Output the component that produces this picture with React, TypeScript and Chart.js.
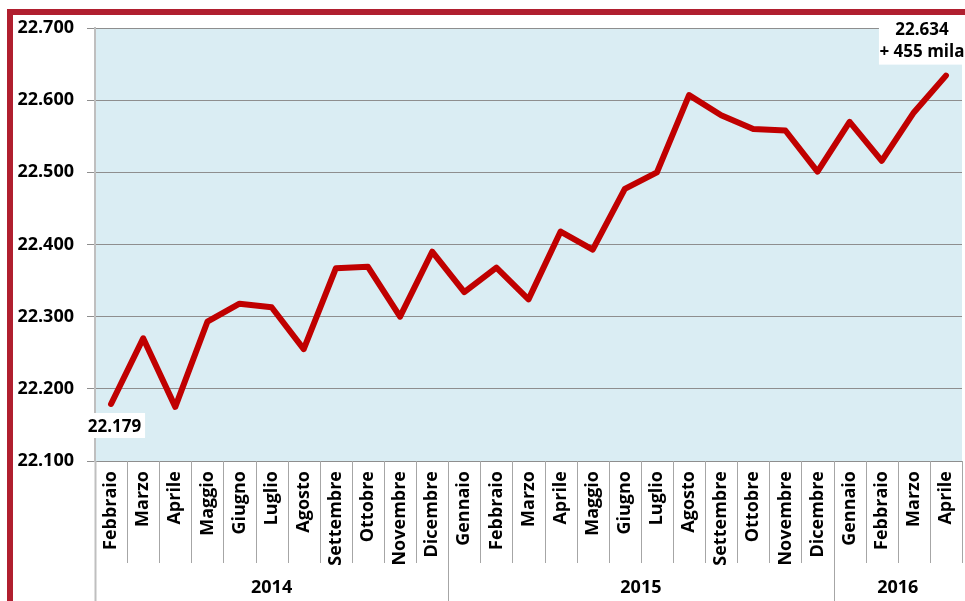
import React, { useEffect, useRef } from 'react';
import { Chart, registerables } from 'chart.js';

Chart.register(...registerables);

const monthLabels = [
  'Febbraio', 'Marzo', 'Aprile', 'Maggio', 'Giugno', 'Luglio', 'Agosto', 'Settembre', 'Ottobre', 'Novembre', 'Dicembre',
  'Gennaio', 'Febbraio', 'Marzo', 'Aprile', 'Maggio', 'Giugno', 'Luglio', 'Agosto', 'Settembre', 'Ottobre', 'Novembre', 'Dicembre',
  'Gennaio', 'Febbraio', 'Marzo', 'Aprile',
];
const yearLabels = ['2014', '2015', '2016'];
const yearSpans = [11, 12, 4];
const employed = [
  22.179, 22.27, 22.175, 22.293, 22.318, 22.313, 22.255, 22.367, 22.369, 22.3, 22.39,
  22.334, 22.368, 22.324, 22.418, 22.393, 22.477, 22.5, 22.607, 22.579, 22.56, 22.558, 22.501,
  22.57, 22.516, 22.583, 22.634,
];
const yMin = 22.1;
const yMax = 22.7;
const yStep = 0.1;
const firstNote = ['22.179'];
const lastNote = ['22.634', '+ 455 mila'];

const FONT = "'Open Sans', 'Liberation Sans', sans-serif";

const framePlugin = {
  id: 'frame',
  beforeDraw(chart: any) {
    const { ctx, chartArea } = chart;
    const { left, top, right, bottom } = chartArea;
    ctx.save();
    ctx.fillStyle = '#ffffff';
    ctx.fillRect(0, 0, chart.width, chart.height);
    ctx.fillStyle = '#DAEDF3';
    ctx.fillRect(left, top, right - left, bottom - top);
    ctx.fillStyle = '#B01F2F';
    ctx.fillRect(7, 9, chart.width - 7, 6);
    ctx.fillRect(7, 9, 6, chart.height - 9);
    ctx.restore();
  },
  afterDraw(chart: any) {
    const { ctx, chartArea } = chart;
    const { left, right, bottom } = chartArea;
    const xs = chart.scales.x;
    const ys = chart.scales.y;
    const n = monthLabels.length;
    const boundary = (i: number) => {
      if (i <= 0) return left;
      if (i >= n) return right;
      return (xs.getPixelForValue(i - 1) + xs.getPixelForValue(i)) / 2;
    };
    const monthBottom = bottom + 102;
    ctx.save();
    ctx.strokeStyle = '#A6A6A6';
    ctx.lineWidth = 1;
    for (let i = 1; i <= n; i++) {
      const x = Math.round(boundary(i)) + 0.5;
      ctx.beginPath();
      ctx.moveTo(x, bottom);
      ctx.lineTo(x, monthBottom);
      ctx.stroke();
    }
    let acc = 0;
    const yearBounds = [0];
    yearSpans.forEach((s) => { acc += s; yearBounds.push(acc); });
    yearBounds.forEach((b, idx) => {
      if (idx === yearBounds.length - 1) return;
      const x = Math.round(boundary(b)) + 0.5;
      ctx.lineWidth = b === 0 ? 2 : 1;
      ctx.strokeStyle = b === 0 ? '#BFBFBF' : '#A6A6A6';
      ctx.beginPath();
      ctx.moveTo(x, bottom);
      ctx.lineTo(x, chart.height);
      ctx.stroke();
    });
    ctx.fillStyle = '#000';
    ctx.font = `bold 18px ${FONT}`;
    ctx.textAlign = 'center';
    ctx.textBaseline = 'middle';
    yearLabels.forEach((lab, idx) => {
      const x0 = boundary(yearBounds[idx]);
      const x1 = boundary(yearBounds[idx + 1]);
      ctx.fillText(lab, (x0 + x1) / 2, 588);
    });
    const p0x = xs.getPixelForValue(0);
    const p0y = ys.getPixelForValue(employed[0]);
    ctx.fillStyle = '#ffffff';
    ctx.fillRect(p0x - 26, p0y + 9, 60, 25);
    ctx.fillStyle = '#000';
    ctx.font = `bold 17px ${FONT}`;
    ctx.fillText(firstNote[0], p0x + 3.5, p0y + 23);

    const li = employed.length - 1;
    const plx = xs.getPixelForValue(li);
    const ply = ys.getPixelForValue(employed[li]);
    ctx.fillStyle = '#ffffff';
    ctx.fillRect(plx - 67, ply - 56, 90, 45);
    ctx.fillStyle = '#000';
    ctx.fillText(lastNote[0], plx - 24, ply - 45);
    ctx.fillText(lastNote[1], plx - 24, ply - 23);
    ctx.restore();
  },
};

export default function App() {
  const ref = useRef<HTMLCanvasElement | null>(null);
  useEffect(() => {
    if (!ref.current) return;
    const chart = new Chart(ref.current, {
      type: 'line',
      data: {
        labels: monthLabels,
        datasets: [
          {
            data: employed,
            borderColor: '#C00000',
            borderWidth: 6,
            pointRadius: 0,
            tension: 0,
            borderJoinStyle: 'round',
            borderCapStyle: 'round',
            fill: false,
          },
        ],
      },
      options: {
        animation: false,
        responsive: false,
        devicePixelRatio: 1,
        layout: { padding: { top: 28, right: 3, left: 0, bottom: 0 } },
        plugins: { legend: { display: false }, tooltip: { enabled: false } },
        scales: {
          x: {
            type: 'category',
            offset: true,
            grid: { display: false },
            border: { display: false },
            ticks: {
              autoSkip: false,
              minRotation: 90,
              maxRotation: 90,
              padding: 2,
              color: '#000',
              font: { family: FONT, size: 18, weight: 'bold' },
            },
            afterFit: (s: any) => { s.height = 140; s.paddingLeft = 0; s.paddingRight = 0; },
          },
          y: {
            min: yMin,
            max: yMax,
            ticks: {
              stepSize: yStep,
              padding: 13,
              color: '#000',
              font: { family: FONT, size: 18, weight: 'bold' },
              callback: (v: any) => Number(v).toFixed(3),
            },
            grid: { color: '#8E8E8E', lineWidth: 1, tickLength: 8, drawTicks: true },
            border: { display: true, color: '#BFBFBF', width: 2 },
            afterFit: (s: any) => { s.width = 95; },
          },
        },
      },
      plugins: [framePlugin],
    } as any);
    return () => chart.destroy();
  }, []);
  return (
    <div style={{ position: 'absolute', left: 0, top: 0, width: 965, height: 601 }}>
      <canvas ref={ref} width={965} height={601} style={{ width: 965, height: 601, display: 'block' }} />
    </div>
  );
}
